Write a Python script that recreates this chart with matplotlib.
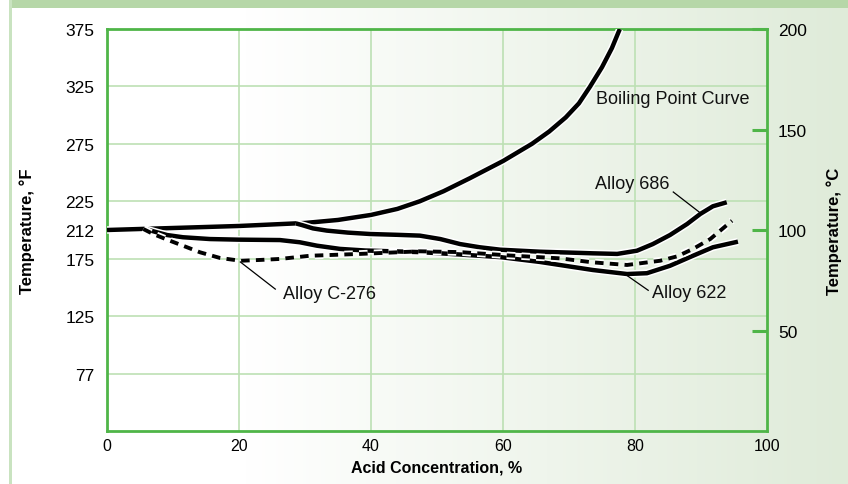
import numpy as np
import matplotlib
matplotlib.use('Agg')
import matplotlib.pyplot as plt
import matplotlib.patheffects as pe
from matplotlib.patches import Rectangle

# data (x = acid %, y = temperature in C)
boil_x = [0, 10, 20, 30, 35, 40, 44, 47.4, 51, 55, 60, 64.4, 67, 69.5, 71.5, 73.2, 75, 76.5, 77.7]
boil_y = [100.0, 101.0, 102.0, 103.5, 105.0, 107.5, 110.5, 114.3, 119.3, 125.8, 134.3, 142.9,
          149.0, 156.0, 163.0, 171.4, 181.0, 190.5, 200.0]

a686_x = [28.6, 29.6, 31.2, 33.3, 36.5, 39.9, 44, 47.4, 50.5, 53.5, 56.5, 59.6, 65.6, 71.7, 73.6, 77.3,
          80.3, 82.7, 85.3, 87.9, 89.9, 91.8, 93.9]
a686_y = [103.3, 102.4, 100.8, 99.7, 98.7, 98.0, 97.6, 97.2, 95.5, 93.0, 91.4, 90.2, 89.2, 88.6, 88.4, 88.1,
          89.7, 93.0, 97.5, 103.0, 108.0, 111.8, 113.8]

a622_x = [5.8, 7.4, 9.1, 11.5, 15.6, 19.9, 26.2, 29.2, 31.8, 35.3, 39.1, 47.4, 53.5, 59.6, 65.6, 68.6,
          73.6, 78.8, 81.8, 85.3, 88.8, 91.8, 95.6]
a622_y = [100.5, 99.0, 97.5, 96.4, 95.5, 95.2, 95.0, 93.9, 92.2, 90.6, 89.8, 89.0, 87.8, 86.5, 84.1, 82.6,
          80.1, 78.1, 78.5, 82.2, 87.2, 91.4, 94.2]

c276_x = [5.5, 7.0, 9.1, 11.5, 14.1, 17.1, 20.2, 23.2, 26.2, 30.8, 38.3, 47.4, 53.5, 61.1, 68.6, 73.6,
          78.8, 83.8, 86.4, 88.8, 91.4, 94.7]
c276_y = [100.5, 98.0, 95.2, 92.2, 88.9, 86.1, 84.7, 85.1, 85.6, 87.2, 88.1, 89.4, 89.0, 87.3, 85.9, 83.9,
          82.6, 84.7, 86.9, 90.6, 95.5, 104.6]

x_ticks = [0, 20, 40, 60, 80, 100]
f_labels = ['77', '125', '175', '225', '275', '325', '375']
c_ticks = [50, 100, 150, 200]

green = '#4fb548'
grid_green = '#bde0b4'

fig = plt.figure(figsize=(8.48, 4.85), dpi=100)

# background: white fading into pale green towards the right
bg = fig.add_axes([0, 0, 1, 1], zorder=-5)
bg.axis('off')
grad = np.clip((np.linspace(0, 1, 848) - 0.29) / 0.71, 0, 1)
c0 = np.array([1.0, 1.0, 1.0])
c1 = np.array([0xdf, 0xeb, 0xd9]) / 255.0
img = c0[None, None, :] * (1 - grad[None, :, None]) + c1[None, None, :] * grad[None, :, None]
bg.imshow(np.repeat(img, 10, axis=0), aspect='auto', extent=[0, 1, 0, 1])
bg.add_patch(Rectangle((9 / 848, 1 - 9 / 485), 1, 9 / 485, color='#b6d7a8', lw=0))
bg.add_patch(Rectangle((9 / 848, 0), 3 / 848, 1, color='#c9e3c0', lw=0))
bg.set_xlim(0, 1)
bg.set_ylim(0, 1)

ax = fig.add_axes([107 / 848, 53 / 485, 660 / 848, 402 / 485])
ax.patch.set_alpha(0)
ax.set_xlim(0, 100)
ax.set_ylim(0, 200)

# grid
for gx in [20, 40, 60, 80]:
    ax.axvline(gx, color=grid_green, lw=1.2, zorder=1)
f_pos = [200 * k / 7 for k in range(1, 8)]
for gy in f_pos:
    ax.axhline(gy, color=grid_green, lw=1.2, zorder=1)

halo = [pe.Stroke(linewidth=5.4, foreground='white'), pe.Normal()]
kw = dict(color='black', lw=3.2, solid_capstyle='butt', solid_joinstyle='round', path_effects=halo)
ax.plot(boil_x, boil_y, zorder=3, **kw)
ax.plot(a686_x, a686_y, zorder=3, **kw)
ax.plot(a622_x, a622_y, zorder=4, **kw)
ax.plot(c276_x, c276_y, color='black', lw=2.8, ls=(0, (2.2, 1.6)), dash_joinstyle='round',
        path_effects=halo, zorder=5)

# labels on the curves
lab_font = dict(fontsize=13, family='Liberation Sans', color='#111111')
ax.text(74.1, 165.2, 'Boiling Point Curve', va='center', ha='left', **lab_font)
ax.text(73.9, 123, 'Alloy 686', va='center', ha='left', **lab_font)
ax.plot([85.8, 89.7], [118.9, 109], color='black', lw=0.9, zorder=6)
ax.text(82.6, 69, 'Alloy 622', va='center', ha='left', **lab_font)
ax.plot([78.9, 82.0], [77.1, 70.0], color='black', lw=0.9, zorder=6)
ax.text(26.7, 68.2, 'Alloy C-276', va='center', ha='left', **lab_font)
ax.plot([20.2, 25.5], [84.1, 70.6], color='black', lw=0.9, zorder=6)

for s in ax.spines.values():
    s.set_color(green)
    s.set_linewidth(2)

ax.set_xticks(x_ticks)
ax.set_xticklabels([str(v) for v in x_ticks], family='Liberation Sans', fontsize=11.5)
ax.tick_params(axis='x', length=0, pad=5)
ax.set_yticks(f_pos + [100])
ax.set_yticklabels(f_labels + ['212'], family='Liberation Sans', fontsize=12.5)
ax.tick_params(axis='y', length=0, pad=9)
ax.set_xlabel('Acid Concentration, %', family='Liberation Sans', fontsize=11.5, fontweight='bold', labelpad=5)
ax.set_ylabel('Temperature, \u00b0F', family='Liberation Sans', fontsize=12, fontweight='bold', labelpad=22)

ax2 = ax.twinx()
ax2.set_ylim(0, 200)
ax2.set_yticks(c_ticks)
ax2.set_yticklabels([str(v) for v in c_ticks], family='Liberation Sans', fontsize=12.5)
ax2.tick_params(axis='y', direction='in', length=11, width=2.2, color=green, pad=8)
for s in ax2.spines.values():
    s.set_visible(False)
ax2.set_ylabel('Temperature, \u00b0C', family='Liberation Sans', fontsize=12, fontweight='bold', labelpad=14)

fig.savefig('out.png', dpi=100)
